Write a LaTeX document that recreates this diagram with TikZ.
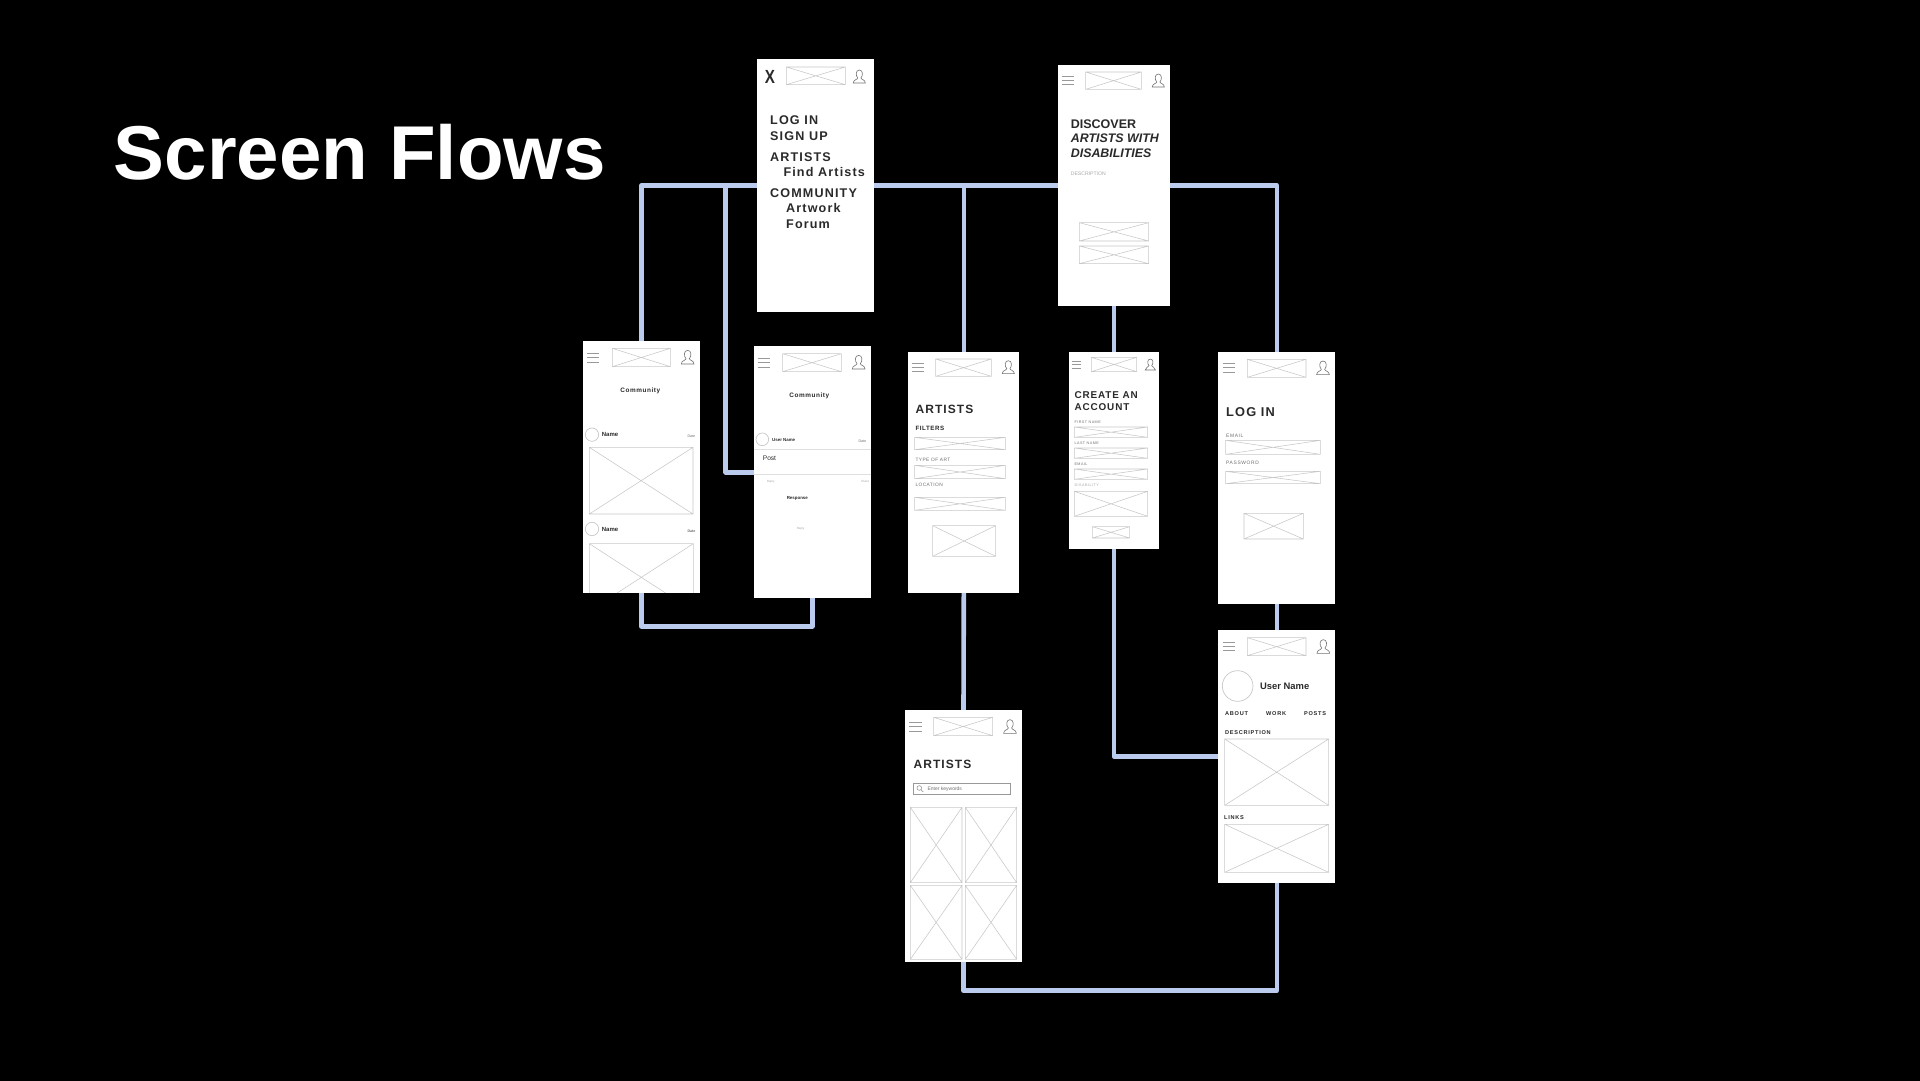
\documentclass[tikz,border=0pt]{standalone}
\usepackage{fontspec}
\setmainfont{Liberation Sans}
\newfontfamily\wf[LetterSpace=9]{Liberation Sans}
\newfontfamily\wg[LetterSpace=13]{Liberation Sans}
\definecolor{flow}{HTML}{BACBEE}
\definecolor{phc}{HTML}{C8C8C8}
\definecolor{ink}{HTML}{2A2A2A}
\definecolor{mid}{HTML}{707070}
\definecolor{lite}{HTML}{A8A8A8}
\pgfdeclarelayer{bg}
\pgfsetlayers{bg,main}
\newcount\tnum
\def\tx(#1,#2)#3#4#5{\global\advance\tnum by 1
  \node[anchor=base west,inner sep=0pt,text=#4] (t\the\tnum) at (#1,#2) {\fontsize{#3}{#3}\selectfont #5};}
\def\tc(#1,#2)#3#4#5{\global\advance\tnum by 1
  \node[anchor=base,inner sep=0pt,text=#4] (t\the\tnum) at (#1,#2) {\fontsize{#3}{#3}\selectfont #5};}
\def\ph(#1,#2)(#3,#4){\draw[phbox] (#1,#2) rectangle (#3,#4) (#1,#2) -- (#3,#4) (#1,#4) -- (#3,#2);}
\def\hb(#1,#2,#3,#4,#5){\draw[hbline] (#1,#3) -- (#2,#3) (#1,#4) -- (#2,#4) (#1,#5) -- (#2,#5);}
\def\usr(#1,#2)#3{\begin{scope}[shift={(#1,#2)},scale=#3]
  \draw[icon] (-19,20) .. controls (-19,9) and (-6,10) .. (-5,4) .. controls (-12,-3) and (-12,-21) .. (0,-21) .. controls (12,-21) and (12,-3) .. (5,4) .. controls (6,10) and (19,9) .. (19,20) -- cycle;
  \end{scope}}
\tikzset{
  screen/.style={fill=white,draw=none,inner sep=0pt,outer sep=0pt},
  flowline/.style={draw=flow,line width=4.6pt,line join=round,line cap=round},
  phbox/.style={draw=phc,line width=.55pt},
  hbline/.style={draw=black!40,line width=.8pt},
  icon/.style={draw=black!55,line width=.6pt},
  avatar/.style={draw=phc,line width=.7pt},
  zoomed/.style 2 args={x=0.333333pt,y=-0.333333pt,shift={(#1,#2)}}
}
\begin{document}
\begin{tikzpicture}[x=1pt,y=-1pt]
\useasboundingbox (0,0) rectangle (1920,1080);
% screens
\node[screen,minimum width=116.7pt,minimum height=252.7pt] (menu) at (815.65,185.35) {};
\node[screen,minimum width=111.7pt,minimum height=241.3pt] (discover) at (1113.85,185.35) {};
\node[screen,minimum width=116.4pt,minimum height=252.3pt] (comm1) at (641.5,466.85) {};
\node[screen,minimum width=116.7pt,minimum height=252.3pt] (comm2) at (812.35,472.15) {};
\node[screen,minimum width=111pt,minimum height=240.7pt] (artists) at (963.8,472.35) {};
\node[screen,minimum width=90.3pt,minimum height=197pt] (create) at (1113.85,450.5) {};
\node[screen,minimum width=117pt,minimum height=252pt] (login) at (1276.8,478) {};
\node[screen,minimum width=117pt,minimum height=252.4pt] (profile) at (1276.8,756.5) {};
\node[screen,minimum width=117pt,minimum height=251.7pt] (artgrid) at (963.5,835.85) {};
% free ends of connectors
\coordinate (postturn) at (725.7,472.3);
\coordinate (posttop) at (725.7,185.35);
\coordinate (commbottom) at (641.5,626.3);
\coordinate (gridbottom) at (963.5,990.7);
\begin{pgfonlayer}{bg}
\fill[black] (-10,-10) rectangle (1930,1090);
\draw[flowline] (comm1.north) |- (menu.center) -- (discover.center) -| (login.north);
\draw[flowline] (posttop) -- (postturn) -- (postturn -| comm2.west);
\draw[flowline] (comm1.south) -- (commbottom) -| (comm2.south);
\draw[flowline] (artists.north) -- (artists.north |- menu.center);
\draw[flowline] (artists.south) -- (artgrid.north);
\draw[flowline] (artgrid.south) -- (gridbottom) -| (profile.south);
\draw[flowline] (discover.south) -- (create.north);
\draw[flowline] (create.south) |- (profile.west);
\draw[flowline] (login.south) -- (profile.north);
\end{pgfonlayer}
% title
\node[anchor=base west,inner sep=0pt,text=white] (title) at (113.5,179) {\fontsize{76.3}{76.3}\selectfont\bfseries Screen Flows};
% ---- top row
\begin{scope}[zoomed={2220}{120}]
\global\advance\tnum by 1
\node[anchor=base west,inner sep=0pt,text=ink,xscale=.8] (t\the\tnum) at (74,130) {\fontsize{19}{19}\selectfont\bfseries X};
\ph(139,81)(316,134) \usr(358,110){.95}
\tx(90,254){12.6}{ink}{\wf\bfseries LOG IN}
\tx(90,300){12.6}{ink}{\wf\bfseries SIGN UP}
\tx(90,363){12.6}{ink}{\wf\bfseries ARTISTS}
\tx(130,409){12.6}{ink}{\wf\bfseries Find Artists}
\tx(90,472){12.6}{ink}{\wf\bfseries COMMUNITY}
\tx(138,518){12.6}{ink}{\wf\bfseries Artwork}
\tx(138,564){12.6}{ink}{\wf\bfseries Forum}
\hb(966,1002,108,121,134) \ph(1037,96)(1204,148) \usr(1255,122){.95}
\tx(992,265){12.5}{ink}{\bfseries DISCOVER}
\tx(992,308){12.4}{ink}{\bfseries\itshape ARTISTS WITH}
\tx(992,351){12.4}{ink}{\bfseries\itshape DISABILITIES}
\tx(992,405){5.1}{lite}{DESCRIPTION}
\ph(1018,548)(1226,603) \ph(1018,618)(1226,671)
\end{scope}
% ---- community, post, artists filters
\begin{scope}[zoomed={1710}{990}]
\hb(52,88,70,83,96) \ph(127,55)(301,110) \usr(353,82){1}
\tc(211,187){6.4}{ink}{\wf\bfseries Community}
\draw[avatar] (66,314) circle (20);
\tx(95,320){6}{ink}{\bfseries Name}
\tx(352,322){3.6}{mid}{Date}
\ph(58,352)(369,552)
\draw[avatar] (66,597) circle (20);
\tx(95,605){6}{ink}{\bfseries Name}
\tx(352,606){3.6}{mid}{\bfseries Date}
\begin{scope}
\clip (40,600) rectangle (389,788);
\ph(58,641)(370,843)
\end{scope}
\hb(563,601,85,98,111) \ph(638,71)(814,125) \usr(866,97){1}
\tc(718,202){6.4}{ink}{\wf\bfseries Community}
\draw[avatar] (577,328) circle (19);
\tx(606,333){4.4}{ink}{\bfseries User Name}
\tx(865,336){3.6}{mid}{Date}
\draw[draw=black!12,line width=.7pt] (552,359) -- (902,359) (552,433) -- (902,433);
\tx(578,391){6.6}{ink}{Post}
\tx(590,456){3}{lite}{Reply}
\tx(873,457){3}{lite}{Share}
\tc(682,508){4.4}{ink}{\bfseries Response}
\tc(692,597){3}{lite}{Reply}
\hb(1025,1061,99,112,125) \ph(1097,87)(1264,139) \usr(1315,112){.95}
\tx(1036,250){12}{ink}{\wf\bfseries ARTISTS}
\tx(1036,300){6.2}{ink}{\wf\bfseries FILTERS}
\ph(1034,322)(1306,359)
\tx(1036,393){4.8}{mid}{\wf TYPE OF ART}
\ph(1034,406)(1306,446)
\tx(1036,469){4.8}{mid}{\wf LOCATION}
\ph(1034,502)(1306,541)
\ph(1088,587)(1277,679)
\end{scope}
% ---- create, log in
\begin{scope}[zoomed={2700}{1020}]
\hb(515,544,63,74,85) \ph(574,52)(710,95) \usr(751,74){.8}
\tx(523,176){9.9}{ink}{\wf\bfseries CREATE AN}
\tx(523,212){9.9}{ink}{\wf\bfseries ACCOUNT}
\tx(523,249){3.7}{mid}{\wg FIRST NAME}
\ph(523,261)(743,292)
\tx(523,313){3.7}{mid}{\wg LAST NAME}
\ph(523,324)(743,355)
\tx(523,376){3.7}{mid}{\wg EMAIL}
\ph(523,387)(743,418)
\tx(523,439){3.7}{lite}{\wg DISABILITY}
\ph(523,454)(743,529)
\ph(577,560)(689,594)
\hb(968,1005,70,83,96) \ph(1042,58)(1218,112) \usr(1269,84){1}
\tx(978,229){12.8}{ink}{\wf\bfseries LOG IN}
\tx(978,291){4.9}{mid}{\wg EMAIL}
\ph(977,301)(1261,343)
\tx(978,372){4.9}{mid}{\wg PASSWORD}
\ph(977,394)(1261,431)
\ph(1032,520)(1210,597)
\end{scope}
% ---- artists grid, profile
\begin{scope}[zoomed={2670}{1860}]
\hb(58,95,307,320,333) \ph(131,292)(308,347) \usr(360,320){1}
\tx(70,446){12}{ink}{\wf\bfseries ARTISTS}
\draw[draw=black!40,line width=.6pt] (70,490) rectangle (362,523);
\draw[draw=black!45,line width=.5pt] (88,504) circle (7) (93,509) -- (100,516);
\tx(112,511){5}{mid}{Enter keywords}
\ph(61,562)(216,788) \ph(226,562)(380,788) \ph(61,796)(216,1018) \ph(226,796)(380,1018)
\hb(998,1035,68,80,92) \ph(1072,53)(1248,107) \usr(1300,80){1}
\draw[avatar] (1043,198) circle (46);
\tx(1110,208){9.4}{ink}{\bfseries User Name}
\tx(1005,286){5.6}{ink}{\wg\bfseries ABOUT}
\tx(1128,285){5.6}{ink}{\wg\bfseries WORK}
\tx(1242,285){5.6}{ink}{\wg\bfseries POSTS}
\tx(1005,342){5.6}{ink}{\wg\bfseries DESCRIPTION}
\ph(1004,357)(1316,556)
\tx(1002,598){5.6}{ink}{\wg\bfseries LINKS}
\ph(1004,613)(1316,757)
\end{scope}
\end{tikzpicture}
\end{document}
